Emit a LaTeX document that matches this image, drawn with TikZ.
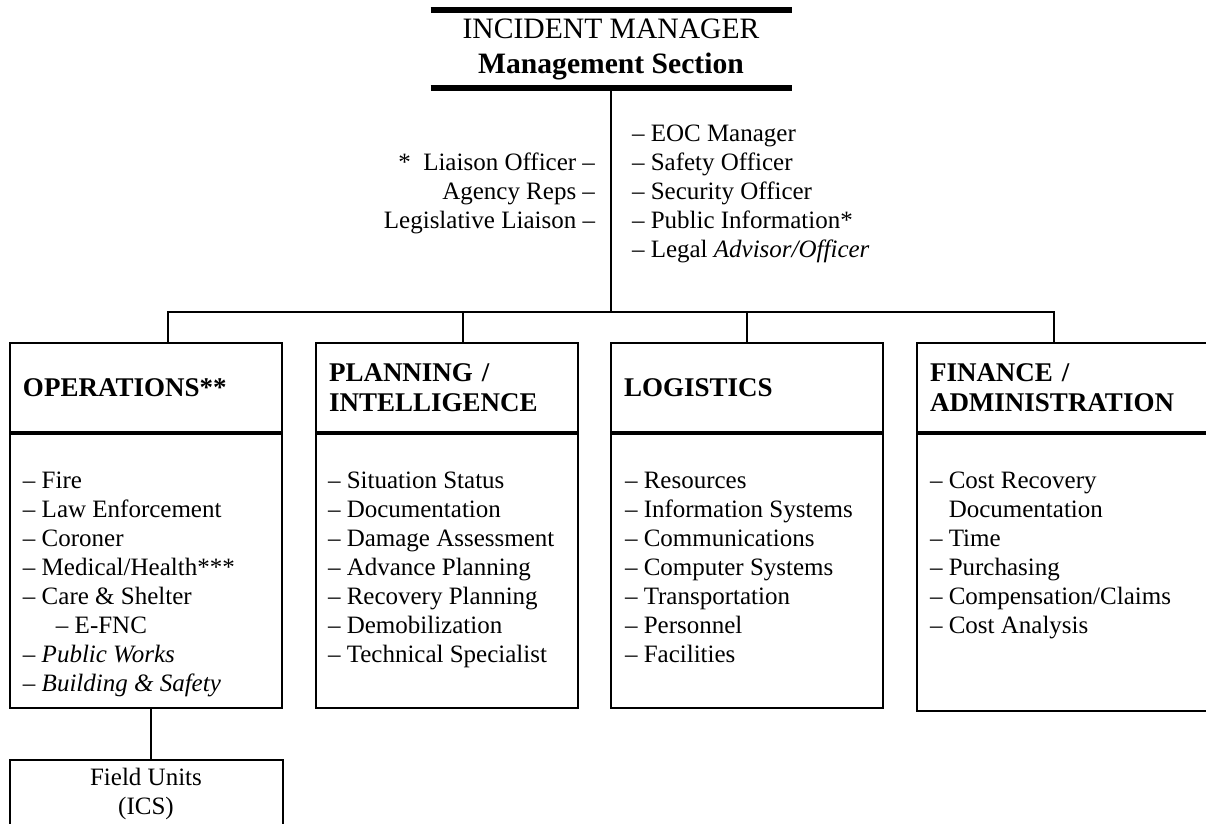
\documentclass[tikz,border=0pt]{standalone}
\usepackage{fontspec}
\setmainfont{Liberation Serif}
\usetikzlibrary{positioning}

\begin{document}
\begin{tikzpicture}[x=0.5pt, y=-0.5pt,
	thickbar/.style={line width=2.8pt},
	branch/.style={line width=0.7pt},
	divider/.style={line width=1.8pt},
	sechead/.style={draw, line width=1pt, minimum height=45pt, inner xsep=6.5pt, inner ysep=0pt, outer sep=0pt, align=left, font=\fontsize{13.5}{15}\selectfont\bfseries},
	secbody/.style={draw, line width=1pt, inner sep=0pt, outer sep=0pt},
	itemlist/.style={inner sep=0pt, outer sep=0pt, align=left, font=\fontsize{12.5}{14.5}\selectfont}]
	\useasboundingbox (0,0) rectangle (1206,824);

	%manager
	\node[align=center, minimum width=180.5pt, minimum height=39pt, inner sep=0pt, outer sep=0pt, font=\fontsize{14.8}{17.5}\selectfont] (mgr) at (611,49) {INCIDENT MANAGER\\\textbf{Management Section}};
	\draw[thickbar] (mgr.north west) -- (mgr.north east);
	\draw[thickbar] (mgr.south west) -- (mgr.south east);
	\node[itemlist, below right=16.5pt and 10.5pt of mgr.south] (mgrStaff) {\strut– EOC Manager\\– Safety Officer\\– Security Officer\\– Public Information*\\– Legal \textit{Advisor/Officer}};
	\node[itemlist, align=right, below left=31pt and 8pt of mgr.south] (mgrLiaison) {\strut*\ \ Liaison Officer –\\Agency Reps –\\Legislative Liaison –};

	%section heads
	\node[sechead, text width=123pt] (opsHead) at (146,388) {OPERATIONS**};
	\node[sechead, text width=118pt, right=17pt of opsHead] (planHead) {PLANNING /\\INTELLIGENCE};
	\node[sechead, text width=123pt, right=16.5pt of planHead] (logHead) {LOGISTICS};
	\node[sechead, text width=136.5pt, right=17pt of logHead] (finHead) {FINANCE /\\ADMINISTRATION};

	%section bodies
	\node[secbody, minimum width=136pt, minimum height=137.5pt, below=0pt of opsHead] (opsBody) {};
	\node[secbody, minimum width=131pt, minimum height=137.5pt, below=0pt of planHead] (planBody) {};
	\node[secbody, minimum width=136pt, minimum height=137.5pt, below=0pt of logHead] (logBody) {};
	\node[secbody, minimum width=149.5pt, minimum height=139pt, below=0pt of finHead] (finBody) {};
	\draw[divider] (opsHead.south west) -- (opsHead.south east);
	\draw[divider] (planHead.south west) -- (planHead.south east);
	\draw[divider] (logHead.south west) -- (logHead.south east);
	\draw[divider] (finHead.south west) -- (finHead.south east);

	%lists
	\node[itemlist, below right=17.35pt and 6.5pt of opsHead.south west] (opsList) {\strut– Fire\\– Law Enforcement\\– Coroner\\– Medical/Health***\\– Care \& Shelter\\\hspace*{16.5pt}– E-FNC\\– \textit{Public Works}\\– \textit{Building \& Safety}};
	\node[itemlist, below right=17.35pt and 6pt of planHead.south west] (planList) {\strut– Situation Status\\– Documentation\\– Damage Assessment\\– Advance Planning\\– Recovery Planning\\– Demobilization\\– Technical Specialist};
	\node[itemlist, below right=17.35pt and 7pt of logHead.south west] (logList) {\strut– Resources\\– Information Systems\\– Communications\\– Computer Systems\\– Transportation\\– Personnel\\– Facilities};
	\node[itemlist, below right=17.35pt and 6.5pt of finHead.south west] (finList) {\strut– Cost Recovery\\\phantom{– }Documentation\\– Time\\– Purchasing\\– Compensation/Claims\\– Cost Analysis};

	%field units
	\node[secbody, minimum width=136.5pt, minimum height=50pt, below=26pt of opsBody.south] (field) {};
	\node[itemlist, align=center, below=2.5pt of field.north] (fieldText) {\strut Field Units\\(ICS)};

	%tree lines
	\coordinate (bus) at (611,312);
	\draw[branch] (mgr.south) -- (bus);
	\draw[branch] ([xshift=11pt]opsHead.north) |- (bus);
	\draw[branch] ([xshift=8pt]planHead.north) |- (bus);
	\draw[branch] (logHead.north) |- (bus);
	\draw[branch] ([xshift=-6.25pt]finHead.north) |- (bus);
	\draw[branch] ([xshift=2.5pt]opsBody.south) -- ([xshift=2.5pt]field.north);
\end{tikzpicture}
\end{document}
